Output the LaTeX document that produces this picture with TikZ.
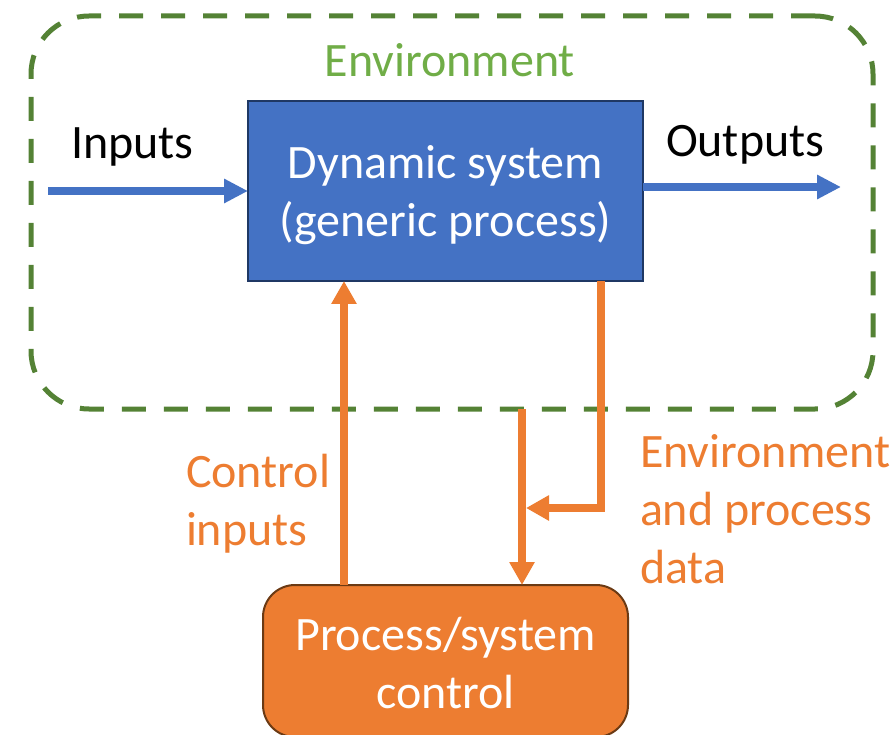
\documentclass[tikz,border=0pt]{standalone}
\usepackage{fontspec}
\setmainfont{Carlito}
\usetikzlibrary{arrows.meta}
\definecolor{sysblue}{HTML}{4472C4}
\definecolor{sysedge}{HTML}{1F3864}
\definecolor{ctlorange}{HTML}{ED7D31}
\definecolor{ctledge}{HTML}{6B3A14}
\definecolor{envgreen}{HTML}{548235}
\definecolor{envtext}{HTML}{70AD47}
\begin{document}
\begin{tikzpicture}[x=1pt,y=-1pt,
  every node/.style={inner sep=0pt, outer sep=0pt},
  bigtext/.style={font=\fontsize{48}{58}\selectfont},
  envbox/.style={draw=envgreen, line width=5pt, dash pattern=on 24pt off 18pt,
    rounded corners=58pt, minimum width=842pt, minimum height=393pt},
  sysbox/.style={draw=sysedge, line width=2pt, fill=sysblue,
    minimum width=395pt, minimum height=180pt},
  ctlbox/.style={draw=ctledge, line width=2pt, fill=ctlorange,
    rounded corners=32pt, minimum width=365pt, minimum height=152pt},
  boxlabel/.style={bigtext, text=white, align=center, anchor=base},
  blacklabel/.style={bigtext, text=black, anchor=base west},
  orangelabel/.style={bigtext, text=ctlorange, align=left, anchor=base west},
  barrow/.style={draw=sysblue, line width=7.5pt, -{Triangle[length=24pt,width=23pt]}},
  oarrow/.style={draw=ctlorange, line width=8pt, -{Triangle[length=23pt,width=24pt]}}
]
\useasboundingbox (0,0) rectangle (892,735);

% environment boundary and its title
\node[envbox] (env) at (452,212.5) {};
\node[bigtext, text=envtext, anchor=base] (envlabel) at (450,77) {Environment};

% the process and its controller (multi-line labels sit on their last baseline)
\node[sysbox] (sys) at (445.5,191) {};
\node[boxlabel] (systext) at (445.5,237) {Dynamic system\\(generic process)};
\node[ctlbox] (ctl) at (445.5,661) {};
\node[boxlabel] (ctltext) at (445.5,708) {Process/system\\control};

% inputs and outputs
\coordinate (inStart) at (48,191);
\coordinate (outEnd) at (841,187);
\draw[barrow] (inStart) -- (sys.west |- inStart);
\draw[barrow] (sys.east |- outEnd) -- (outEnd);
\node[blacklabel] (inlabel) at (71,159) {Inputs};
\node[blacklabel] (outlabel) at (666,157) {Outputs};

% control loop
\coordinate (ciX) at (344,400);
\coordinate (fbX) at (601,400);
\coordinate (dnX) at (522,400);
\coordinate (joinPt) at (526,508);
\draw[oarrow] (ctl.north -| ciX) -- (sys.south -| ciX);
\draw[oarrow, line join=miter] (sys.south -| fbX) |- (joinPt);
\draw[oarrow] (env.south -| dnX) -- (ctl.north -| dnX);
\node[orangelabel] (cilabel) at (186,545) {Control\\inputs};
\node[orangelabel] (fblabel) at (640,583) {Environment\\and process\\data};
\end{tikzpicture}
\end{document}
